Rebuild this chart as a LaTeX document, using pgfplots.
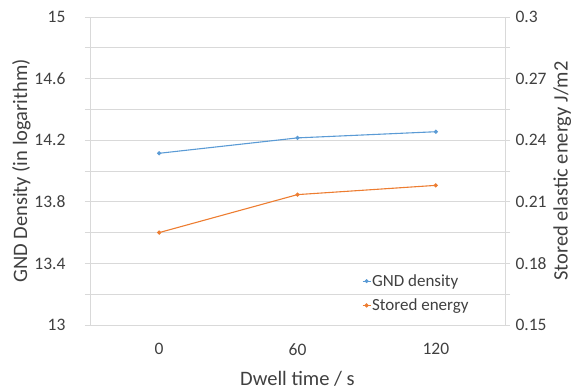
\documentclass[border=0pt]{standalone}
\usepackage{fontspec}
\setmainfont{Carlito}
\usepackage{pgfplots}
\pgfplotsset{compat=1.18}

\definecolor{gndblue}{HTML}{5B9BD5}
\definecolor{energyorange}{HTML}{ED7D31}
\definecolor{gridgrey}{HTML}{D9D9D9}
\definecolor{textgrey}{HTML}{404040}

\pgfplotstableread{
pos dwell gnd
0   0     14.115
1   60    14.215
2   120   14.255
}\gndtable

\pgfplotstableread{
pos dwell energy
0   0     0.195
1   60    0.2135
2   120   0.218
}\energytable

\pgfplotsset{
  common/.style={
    scale only axis,
    width=415pt, height=308pt,
    xmin=-0.5, xmax=2.5,
    /pgf/number format/assume math mode=true,
    tick label style={font=\fontsize{17.5}{20}\selectfont, text=textgrey},
    label style={font=\fontsize{20.5}{23}\selectfont, text=textgrey},
    tick style={gridgrey, line width=0.8pt},
    major tick length=5pt, minor tick length=5pt,
  },
  smallmark/.style={mark=*, mark size=1.5pt, line width=1.1pt},
}

\begin{document}
\begin{tikzpicture}
\useasboundingbox (-90pt,-66pt) rectangle (489pt,325pt);

% left axis: GND density
\begin{axis}[
  common,
  at={(0,0)}, anchor=south west,
  ymin=13, ymax=15,
  ytick={13,13.4,13.8,14.2,14.6,15},
  minor ytick={13.2,13.6,14.0,14.4,14.8},
  yticklabels={13,13.4,13.8,14.2,14.6,15},
  ymajorgrids, yminorgrids,
  grid style={gridgrey, line width=0.8pt},
  minor grid style={gridgrey, line width=0.8pt},
  xtick={0,1,2}, xticklabels={0,60,120},
  xtick style={draw=none},
  xticklabel style={yshift=-10pt},
  yticklabel style={xshift=-16pt},
  axis x line*=bottom, axis y line*=left,
  y axis line style={gridgrey, line width=0.8pt, -},
  x axis line style={gridgrey, line width=0.8pt, -},
  tick align=outside,
  ylabel={GND Density (in logarithm)},
  xlabel={Dwell time / s},
  ylabel style={yshift=-3pt},
  xlabel style={yshift=-9pt},
]
\addplot[gndblue, smallmark] table[x=pos, y=gnd] {\gndtable};
\end{axis}

% right axis: stored elastic energy
\begin{axis}[
  common,
  at={(0,0)}, anchor=south west,
  ymin=0.15, ymax=0.3,
  ytick={0.15,0.18,0.21,0.24,0.27,0.3},
  minor ytick={0.165,0.195,0.225,0.255,0.285},
  yticklabels={0.15,0.18,0.21,0.24,0.27,0.3},
  axis x line=none, axis y line*=right,
  y axis line style={gridgrey, line width=0.8pt, -},
  tick align=outside,
  yticklabel style={xshift=2pt},
  ylabel={Stored elastic energy J/m2},
  ylabel style={yshift=0pt},
  legend style={
    at={(0.655,0.168)}, anchor=north west,
    draw=none, fill=none,
    font=\fontsize{17}{19}\selectfont, text=textgrey,
    row sep=9pt,
    inner sep=0pt,
    nodes={inner sep=1pt},
  },
  legend cell align=left,
  legend image code/.code={
    \draw[#1, mark repeat=2, mark phase=2] plot coordinates {(0pt,0pt) (4pt,0pt) (8pt,0pt)};
  },
]
\addlegendimage{gndblue, smallmark, line width=0.8pt}
\addlegendentry{GND density}
\addplot[energyorange, smallmark] table[x=pos, y=energy] {\energytable};
\addlegendentry{Stored energy}
\end{axis}
\end{tikzpicture}
\end{document}
